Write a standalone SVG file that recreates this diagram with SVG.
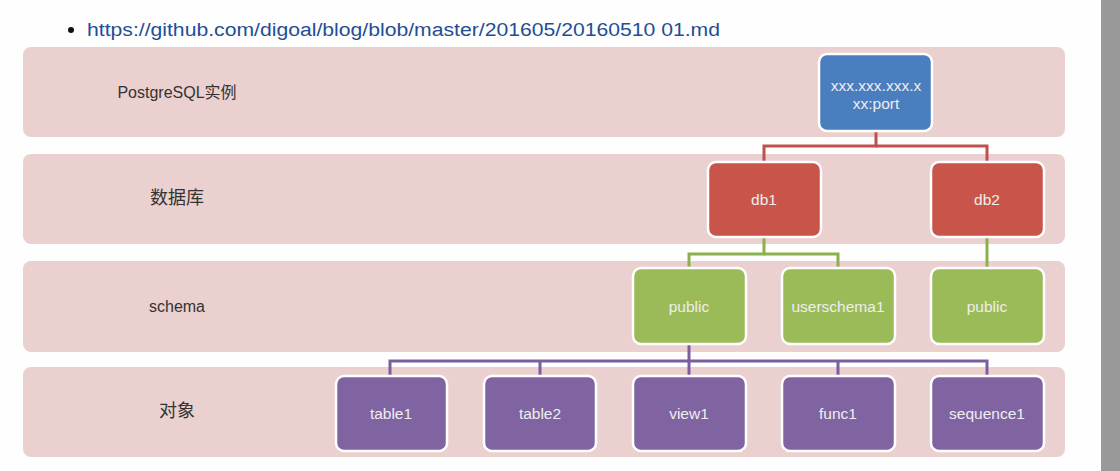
<svg xmlns="http://www.w3.org/2000/svg" width="1120" height="471" viewBox="0 0 1120 471">
<style>
.band{fill:#ead0cf;}
.lbl{font-family:"Liberation Sans","Noto Sans CJK SC",sans-serif;fill:#333;text-anchor:middle;dominant-baseline:central;}
.node rect{stroke:#fff;stroke-width:2.5;}
.node text{font-family:"Liberation Sans","DejaVu Sans",sans-serif;font-size:15.5px;fill:#eeeeee;text-anchor:middle;dominant-baseline:central;}
.blue rect{fill:#4a7ebf;}
.red rect{fill:#c9554a;}
.green rect{fill:#9bbb59;}
.purple rect{fill:#8064a2;}
.conn line,.conn polyline{fill:none;stroke-width:3;}
</style>
<rect width="1120" height="471" fill="#fefefe"/>
<rect x="1101" y="0" width="19" height="471" fill="#999999"/>
<circle cx="71" cy="30" r="3" fill="#111"/>
<text x="87" y="36" font-family="Liberation Sans, sans-serif" font-size="18" fill="#1f4e96" textLength="633" lengthAdjust="spacingAndGlyphs">https://github.com/digoal/blog/blob/master/201605/20160510 01.md</text>
<g id="bands">
<rect class="band" x="23" y="47" width="1042" height="90" rx="8"/>
<rect class="band" x="23" y="154" width="1042" height="90" rx="8"/>
<rect class="band" x="23" y="261" width="1042" height="91" rx="8"/>
<rect class="band" x="23" y="367" width="1042" height="90" rx="8"/>
</g>
<g id="labels">
<text class="lbl" x="177" y="92" font-size="16">PostgreSQL实例</text>
<text class="lbl" x="177" y="198" font-size="18">数据库</text>
<text class="lbl" x="177" y="306" font-size="16">schema</text>
<text class="lbl" x="177" y="411" font-size="18">对象</text>
</g>
<g id="connectors" class="conn">
<polyline stroke="#c0504d" points="876,131 876,146 764,146 764,162"/>
<polyline stroke="#c0504d" points="876,146 987,146 987,162"/>
<polyline stroke="#8cb04c" points="764,237 764,254 689,254 689,268"/>
<polyline stroke="#8cb04c" points="764,254 838,254 838,268"/>
<line stroke="#8cb04c" x1="987" y1="237" x2="987" y2="268"/>
<polyline stroke="#7a5fa0" points="689,344 689,361"/>
<polyline stroke="#7a5fa0" points="390,376 390,361 987,361 987,376"/>
<line stroke="#7a5fa0" x1="540" y1="361" x2="540" y2="376"/>
<line stroke="#7a5fa0" x1="689" y1="361" x2="689" y2="376"/>
<line stroke="#7a5fa0" x1="838" y1="361" x2="838" y2="376"/>
</g>
<g id="instance" class="node blue"><rect x="819" y="54" width="113" height="77" rx="8"/><text x="876" y="85">xxx.xxx.xxx.x</text><text x="876" y="103">xx:port</text></g>
<g id="db1" class="node red"><rect x="708" y="162" width="113" height="75" rx="8"/><text x="764" y="199">db1</text></g>
<g id="db2" class="node red"><rect x="931" y="162" width="113" height="75" rx="8"/><text x="987" y="199">db2</text></g>
<g id="public1" class="node green"><rect x="633" y="268" width="113" height="76" rx="8"/><text x="689" y="306">public</text></g>
<g id="userschema1" class="node green"><rect x="782" y="268" width="113" height="76" rx="8"/><text x="838" y="306">userschema1</text></g>
<g id="public2" class="node green"><rect x="931" y="268" width="113" height="76" rx="8"/><text x="987" y="306">public</text></g>
<g id="table1" class="node purple"><rect x="336" y="376" width="111" height="75" rx="8"/><text x="391" y="413">table1</text></g>
<g id="table2" class="node purple"><rect x="484" y="376" width="112" height="75" rx="8"/><text x="540" y="413">table2</text></g>
<g id="view1" class="node purple"><rect x="633" y="376" width="113" height="75" rx="8"/><text x="689" y="413">view1</text></g>
<g id="func1" class="node purple"><rect x="782" y="376" width="113" height="75" rx="8"/><text x="838" y="413">func1</text></g>
<g id="sequence1" class="node purple"><rect x="931" y="376" width="113" height="75" rx="8"/><text x="987" y="413">sequence1</text></g>
</svg>
